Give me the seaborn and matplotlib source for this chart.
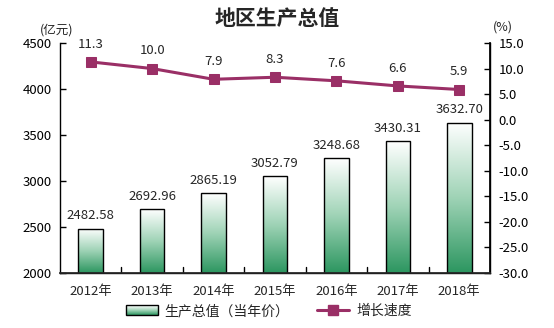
import numpy as np
import pandas as pd
import matplotlib
matplotlib.use("Agg")
import matplotlib.pyplot as plt
from matplotlib.colors import LinearSegmentedColormap
from matplotlib.lines import Line2D
from matplotlib.patches import Rectangle
from matplotlib.legend_handler import HandlerBase
import seaborn as sns

years = ["2012年", "2013年", "2014年", "2015年", "2016年", "2017年", "2018年"]
gdp = [2482.58, 2692.96, 2865.19, 3052.79, 3248.68, 3430.31, 3632.70]
growth = [11.3, 10.0, 7.9, 8.3, 7.6, 6.6, 5.9]

sns.set_theme(style="white")
plt.rcParams["font.family"] = ["Noto Sans CJK SC", "DejaVu Sans"]
plt.rcParams["axes.unicode_minus"] = False

LINE_COLOR = "#9a2f66"
green_cmap = LinearSegmentedColormap.from_list("g", ["#2c9660", "#9fd3b6", "#ffffff"])

fig = plt.figure(figsize=(5.54, 3.28), dpi=100)
ax = fig.add_axes([60 / 554, 55 / 328, 430 / 554, 230 / 328])

df = pd.DataFrame({"year": years, "gdp": gdp, "growth": growth})
sns.barplot(data=df, x="year", y="gdp", ax=ax, width=0.4, color="white",
            edgecolor="black", linewidth=1.0, zorder=3)
ax.set_ylim(2000, 4500)
ax.set_xlim(-0.5, len(years) - 0.5)

# gradient fill inside every bar
grad = np.linspace(0, 1, 256).reshape(-1, 1)
for patch in ax.patches:
    x0, y0 = patch.get_x(), patch.get_y()
    w, h = patch.get_width(), patch.get_height()
    im = ax.imshow(grad, cmap=green_cmap, aspect="auto", origin="lower",
                   extent=[x0, x0 + w, 2000, y0 + h], zorder=2)
    im.set_clip_path(patch)
    patch.set_facecolor("none")
ax.set_ylim(2000, 4500)
ax.set_xlim(-0.5, len(years) - 0.5)

for i, v in enumerate(gdp):
    ax.text(i, v + 70, f"{v:.2f}", ha="center", va="bottom", fontsize=9.5, zorder=5)

ax.set_yticks([2000, 2500, 3000, 3500, 4000, 4500])
ax.set_xlabel("")
ax.set_ylabel("")
ax.set_xticks(range(len(years)))
ax.set_xticklabels(years, fontsize=9.5)
ax.tick_params(axis="x", length=0, pad=9)
ax.tick_params(axis="y", direction="in", length=4, width=1, colors="black",
               labelsize=9.5, left=True, pad=6)
for x in np.arange(0.5, len(years) - 1, 1.0):
    ax.plot([x, x], [2000, 2000 + 2500 * 0.025], color="black", lw=1, zorder=4)
ax.spines["top"].set_visible(False)
for s in ["left", "bottom", "right"]:
    ax.spines[s].set_color("black")
    ax.spines[s].set_linewidth(1)

ax2 = ax.twinx()
sns.lineplot(data=df, x="year", y="growth", ax=ax2, color=LINE_COLOR, lw=2.2,
             marker="s", markersize=7, markeredgecolor=LINE_COLOR, zorder=6)
ax2.set_ylim(-30, 15)
ax2.set_yticks(np.arange(-30, 15.1, 5))
ax2.set_yticklabels([f"{t:.1f}" for t in np.arange(-30, 15.1, 5)])
ax2.set_ylabel("")
ax2.tick_params(axis="y", direction="in", length=4, width=1, colors="black",
                labelsize=9.5, right=True, pad=6)
ax2.spines["top"].set_visible(False)
ax2.spines["right"].set_color("black")
ax2.spines["left"].set_visible(False)
for i, v in enumerate(growth):
    ax2.text(i, v + 2.2, f"{v:.1f}", ha="center", va="bottom", fontsize=9.5)

fig.text(0.5, 0.945, "地区生产总值", ha="center", va="center",
         fontsize=15, fontweight="bold")
fig.text(57 / 554, 1 - 30 / 328, "(亿元)", ha="center", va="center", fontsize=9)
fig.text(503 / 554, 1 - 27 / 328, "(%)", ha="center", va="center", fontsize=9)


class GradientHandler(HandlerBase):
    def create_artists(self, legend, orig_handle, xdescent, ydescent, width, height,
                       fontsize, trans):
        arts = []
        n = 20
        for k in range(n):
            c = green_cmap(1 - k / (n - 1))
            r = Rectangle((xdescent, ydescent + height * (1 - (k + 1) / n)),
                          width, height / n, facecolor=c, edgecolor="none",
                          transform=trans)
            arts.append(r)
        border = Rectangle((xdescent, ydescent), width, height, facecolor="none",
                           edgecolor="black", lw=1, transform=trans)
        arts.append(border)
        return arts


bar_handle = Rectangle((0, 0), 1, 1)
line_handle = Line2D([], [], color=LINE_COLOR, lw=2.2, marker="s", markersize=7)
fig.legend([bar_handle, line_handle], ["生产总值（当年价）", "增长速度"],
           handler_map={Rectangle: GradientHandler()},
           loc="center", bbox_to_anchor=(0.485, 1 - 311 / 328), ncol=2,
           frameon=False, fontsize=10, handlelength=2.3, columnspacing=2.0,
           handletextpad=0.5)

fig.savefig("out.png", dpi=100)
